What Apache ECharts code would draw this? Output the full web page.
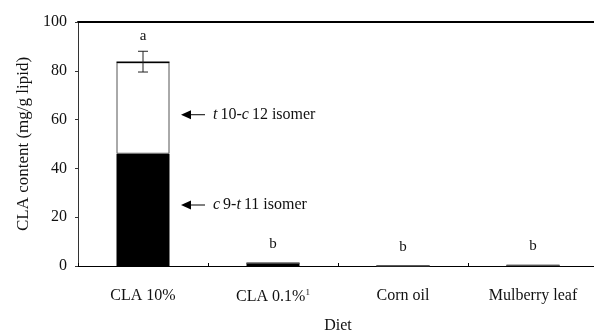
<!DOCTYPE html>
<html>
<head>
<meta charset="utf-8">
<script src="https://cdn.jsdelivr.net/npm/echarts@6/dist/echarts.min.js"></script>
<style>
  html, body { margin: 0; padding: 0; background: #fff; }
  #chart { width: 594px; height: 332px; }
</style>
</head>
<body>
<div id="chart"></div>
<script>
// values
const diets = ['CLA 10%', 'CLA 0.1%', 'Corn oil', 'Mulberry leaf'];
const c9t11 = [46, 1.2, 0.1, 0.3];
const t10c12 = [37.5, 0, 0, 0];
const errLow = [79.5, null, null, null];
const errHigh = [88, null, null, null];
const letters = ['a', 'b', 'b', 'b'];
// isomer callouts: [category index, y value, isomer name]
const callouts = [[0, 62, 't10-c12'], [0, 25, 'c9-t11']];
const yTicks = [0, 20, 40, 60, 80, 100];

const serif = '"Liberation Serif", "DejaVu Serif", serif';

const chart = echarts.init(document.getElementById('chart'));

const errData = diets.map((d, i) => {
  const top = errHigh[i] != null ? errHigh[i] : c9t11[i] + t10c12[i];
  return [i, errLow[i], errHigh[i], top, letters[i]];
});

chart.setOption({
  animation: false,
  textStyle: { fontFamily: serif },
  grid: { left: 78, top: 22, width: 520, bottom: 66, containLabel: false, outerBoundsMode: 'none' },
  xAxis: [
    {
      type: 'category',
      data: diets,
      name: 'Diet',
      nameLocation: 'middle',
      nameGap: 52,
      nameTextStyle: { fontSize: 16, color: '#111', fontFamily: serif },
      axisLine: { lineStyle: { color: '#000', width: 1.2 } },
      axisTick: { show: true, inside: true, length: 3, lineStyle: { color: '#000' } },
      axisLabel: {
        interval: 0,
        hideOverlap: false,
        margin: 22,
        fontSize: 16,
        color: '#111',
        fontFamily: serif,
        formatter: v => v === 'CLA 0.1%' ? v + '{sup|1}' : v,
        rich: { sup: { fontSize: 9, verticalAlign: 'top', padding: [0, 0, 9, 0], fontFamily: serif, color: '#111' } }
      }
    },
    {
      type: 'category',
      data: diets,
      position: 'top',
      axisLine: { lineStyle: { color: '#000', width: 2 } },
      axisTick: { show: false },
      axisLabel: { show: false }
    }
  ],
  yAxis: {
    type: 'value',
    min: 0,
    max: 100,
    interval: 20,
    name: 'CLA content (mg/g lipid)',
    nameLocation: 'middle',
    nameGap: 46,
    nameTextStyle: { fontSize: 17, color: '#111', fontFamily: serif },
    axisLine: { show: true, lineStyle: { color: '#333', width: 1 } },
    axisTick: { show: true, inside: false, length: 3, lineStyle: { color: '#333' } },
    splitLine: { show: false },
    axisLabel: {
      fontSize: 16,
      color: '#111',
      margin: 11,
      fontFamily: serif,
      formatter: v => yTicks.includes(v) ? String(v) : ''
    }
  },
  series: [
    {
      name: 'c9-t11 isomer',
      type: 'bar',
      stack: 'cla',
      barWidth: 53,
      data: c9t11,
      itemStyle: { color: '#000' }
    },
    {
      name: 't10-c12 isomer',
      type: 'bar',
      stack: 'cla',
      barWidth: 53,
      data: t10c12,
      itemStyle: { color: '#fff', borderColor: '#555', borderWidth: 1 }
    },
    {
      // top edge of the stacked bar
      type: 'custom',
      data: diets.map((d, i) => [i, c9t11[i] + t10c12[i], t10c12[i]]),
      renderItem: (params, api) => {
        if (!api.value(2)) return;
        const p = api.coord([api.value(0), api.value(1)]);
        return {
          type: 'line',
          shape: { x1: p[0] - 26.5, y1: p[1], x2: p[0] + 26.5, y2: p[1] },
          style: { stroke: '#000', lineWidth: 1.5 }
        };
      },
      z: 3
    },
    {
      // error bars and significance letters
      type: 'custom',
      data: errData,
      renderItem: (params, api) => {
        const i = api.value(0);
        const children = [];
        const top = api.coord([i, api.value(3)]);
        if (errLow[i] != null) {
          const lo = api.coord([i, api.value(1)]);
          const hi = api.coord([i, api.value(2)]);
          const w = 5;
          children.push(
            { type: 'line', shape: { x1: lo[0], y1: lo[1], x2: hi[0], y2: hi[1] }, style: { stroke: '#222', lineWidth: 1 } },
            { type: 'line', shape: { x1: lo[0] - w, y1: lo[1], x2: lo[0] + w, y2: lo[1] }, style: { stroke: '#222', lineWidth: 1 } },
            { type: 'line', shape: { x1: hi[0] - w, y1: hi[1], x2: hi[0] + w, y2: hi[1] }, style: { stroke: '#222', lineWidth: 1 } }
          );
        }
        const gap = errLow[i] != null ? 15 : 19;
        children.push({
          type: 'text',
          style: {
            text: letters[i],
            x: top[0],
            y: top[1] - gap,
            align: 'center',
            verticalAlign: 'middle',
            fontSize: 15,
            fontFamily: serif,
            fill: '#111'
          }
        });
        return { type: 'group', children };
      },
      z: 4
    },
    {
      // isomer callout arrows
      type: 'custom',
      data: callouts,
      renderItem: (params, api) => {
        const p = api.coord([api.value(0), api.value(1)]);
        const name = callouts[params.dataIndex][2];
        const x0 = p[0] + 38;
        const y = p[1];
        const m = name.match(/^([a-z])(\d+)-([a-z])(\d+)$/);
        return {
          type: 'group',
          children: [
            { type: 'polygon', shape: { points: [[x0, y], [x0 + 10, y - 4.5], [x0 + 10, y + 4.5]] }, style: { fill: '#000' } },
            { type: 'line', shape: { x1: x0 + 9, y1: y, x2: x0 + 24, y2: y }, style: { stroke: '#000', lineWidth: 1 } },
            {
              type: 'text',
              style: {
                x: x0 + 32,
                y: y,
                verticalAlign: 'middle',
                text: '{i|' + m[1] + '}' + m[2] + '-{i|' + m[3] + '}' + m[4] + ' isomer',
                fontSize: 16,
                fontFamily: serif,
                fill: '#111',
                rich: { i: { fontStyle: 'italic', fontSize: 16, fontFamily: serif, fill: '#111', padding: [0, 3, 0, 0] } }
              }
            }
          ]
        };
      },
      z: 4
    }
  ]
});
</script>
</body>
</html>
